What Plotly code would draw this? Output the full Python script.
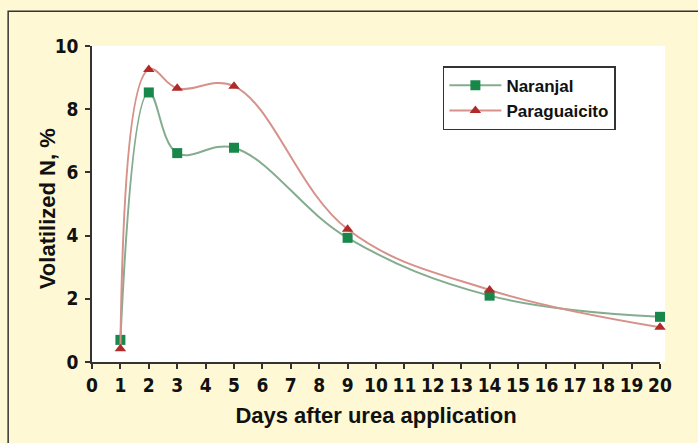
import plotly.graph_objects as go

days = [1, 2, 3, 5, 9, 14, 20]
naranjal = [0.70, 8.53, 6.61, 6.78, 3.93, 2.10, 1.43]
paraguaicito = [0.42, 9.26, 8.66, 8.73, 4.20, 2.28, 1.10]
x_ticks = list(range(0, 21))
y_ticks = [0, 2, 4, 6, 8, 10]

W, H = 698, 443
L, R, T, B = 92.3, 38, 45.7, 80.7
pw, ph = W - L - R, H - T - B

def px_x(p):
    return (p - L) / pw

def px_y(p):
    return (H - B - p) / ph

cream = "#FEF9D4"
tick_font = dict(family="DejaVu Sans Condensed, Liberation Sans Narrow, DejaVu Sans", size=19, color="#111111")
title_font = dict(family="Liberation Sans", size=22, color="#111111")

fig = go.Figure()
fig.add_trace(go.Scatter(
    x=days, y=naranjal, name="<b>Naranjal</b>", mode="lines+markers",
    legendgroup="a",
    line=dict(color="#84AC8F", width=2, shape="spline", smoothing=1.1),
    marker=dict(symbol="square", size=10, color="#17874A"),
    cliponaxis=False,
))
fig.add_trace(go.Scatter(
    x=days, y=paraguaicito, name="<b>Paraguaicito</b>", mode="lines+markers",
    legendgroup="b",
    line=dict(color="#D6928A", width=2, shape="spline", smoothing=1.1),
    marker=dict(symbol="triangle-up", size=10, color="#B02A2A"),
    cliponaxis=False,
))

fig.update_layout(
    width=W, height=H,
    margin=dict(l=L, r=R, t=T, b=B, pad=0),
    paper_bgcolor=cream, plot_bgcolor="white",
    showlegend=True,
    legend=dict(
        x=px_x(443), y=px_y(66), xanchor="left", yanchor="top",
        bgcolor="white", bordercolor="#333333", borderwidth=1.5,
        font=dict(family="Liberation Sans", size=17, color="#111111"),
        itemwidth=52, tracegroupgap=0,
    ),
    shapes=[
        dict(type="rect", xref="paper", yref="paper",
             x0=1, x1=px_x(665), y0=0, y1=1,
             fillcolor="white", line=dict(width=0), layer="below"),
        dict(type="rect", xref="paper", yref="paper",
             x0=px_x(8.5), x1=px_x(705), y0=px_y(450), y1=px_y(11),
             fillcolor="rgba(0,0,0,0)", line=dict(color="#333333", width=1.5)),
    ],
    annotations=[
        dict(text="<b>Volatilized N, %</b>", xref="paper", yref="paper",
             x=px_x(48), y=px_y(208.5), xanchor="center", yanchor="middle",
             textangle=-90, showarrow=False, font=title_font),
    ],
)

fig.update_xaxes(
    range=[0, 20], tickvals=x_ticks, ticktext=[f"<b>{v}</b>" for v in x_ticks],
    ticks="outside", ticklen=5, tickwidth=1.5, tickcolor="#333333",
    showline=True, linecolor="#333333", linewidth=1.5,
    showgrid=False, zeroline=False, tickfont=tick_font,
    title=dict(text="<b>Days after urea application</b>", font=title_font, standoff=13),
)
fig.update_yaxes(
    range=[0, 10], tickvals=y_ticks, ticktext=[f"<b>{v}</b>" for v in y_ticks],
    ticks="outside", ticklen=5, tickwidth=1.5, tickcolor="#333333",
    showline=True, linecolor="#333333", linewidth=1.5,
    showgrid=False, zeroline=False, tickfont=tick_font, ticklabelstandoff=3,
)

fig.write_html("out.html", config={"displayModeBar": False},
               post_script="document.body.style.margin='0';")
